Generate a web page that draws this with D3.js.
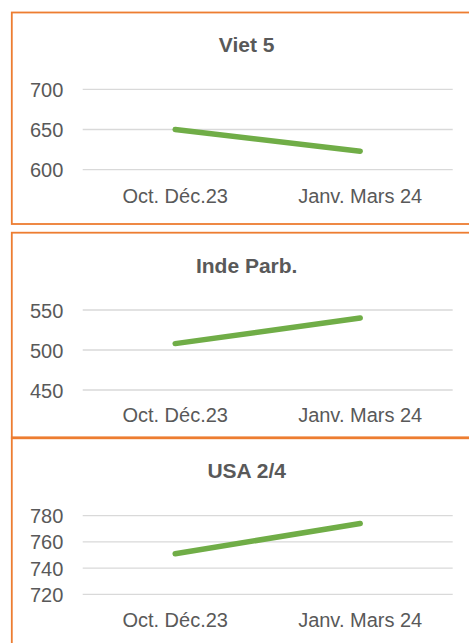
<!DOCTYPE html>
<html lang="fr">
<head>
    <meta charset="UTF-8">
    <title>Prix riz - trois paneles</title>
    <script type="text/javascript" src="https://d3js.org/d3.v7.min.js"></script>
    <style>
      body { margin: 0; background: #ffffff; }
    </style>
    <script type="text/javascript">
      // Datos de los graficos
      var categorias = ["Oct. Déc.23", "Janv. Mars 24"];
      var titulos = ["Viet 5", "Inde Parb.", "USA 2/4"];
      var viet5 = [650, 623];
      var indeParb = [508, 540];
      var usa24 = [751, 774];
      var ticksViet = [600, 650, 700];
      var ticksInde = [450, 500, 550];
      var ticksUsa = [720, 740, 760, 780];

      function diagrama(){

      // Tamaño del contenedor SVG
      	ancho = 469;
      	alto = 643;

      // Posicion de cada panel (marco, titulo, rejilla, etiquetas)
      	var paneles = [
      		{ titulo: titulos[0], valores: viet5, ticks: ticksViet,
      		  arriba: 12.5, abajo: 224, yTitulo: 52.3, yTop: 89.3, yBot: 169.7, yEtiq: 202.5 },
      		{ titulo: titulos[1], valores: indeParb, ticks: ticksInde,
      		  arriba: 232.7, abajo: 438.3, yTitulo: 272.7, yTop: 310, yBot: 390, yEtiq: 422.3 },
      		{ titulo: titulos[2], valores: usa24, ticks: ticksUsa,
      		  arriba: 437.3, abajo: 660, yTitulo: 478.3, yTop: 515.7, yBot: 594.3, yEtiq: 626.7 }
      	];

      	var izq = 82.7;   // inicio de la rejilla
      	var der = 452.7;  // fin de la rejilla

      	var svg = d3.select("body")
      				.append("svg")
      				.attr("width", ancho)
      				.attr("height", alto)
      				.style("font-family", "'Liberation Sans', Arial, sans-serif");

      // Escala X comun: dos categorias centradas en su banda
      	var escalaX = d3.scalePoint()
      					.domain(categorias)
      					.range([izq, der])
      					.padding(0.5);

      	paneles.forEach(function(p) {
      		var g = svg.append("g");

      	// Marco naranja
      		g.append("rect")
      		 .attr("x", 11.8)
      		 .attr("y", p.arriba)
      		 .attr("width", 500)
      		 .attr("height", p.abajo - p.arriba)
      		 .attr("fill", "none")
      		 .attr("stroke", "#ED7D31")
      		 .attr("stroke-width", 1.8);

      	// Escala Y del panel
      		var escalaY = d3.scaleLinear()
      						.domain([d3.min(p.ticks), d3.max(p.ticks)])
      						.range([p.yBot, p.yTop]);

      	// Rejilla horizontal
      		g.selectAll("line.rejilla")
      		 .data(p.ticks)
      		 .enter()
      		 .append("line")
      		 .attr("class", "rejilla")
      		 .attr("x1", izq)
      		 .attr("x2", der)
      		 .attr("y1", function(d) { return escalaY(d); })
      		 .attr("y2", function(d) { return escalaY(d); })
      		 .attr("stroke", "#D9D9D9")
      		 .attr("stroke-width", 1.3);

      	// Etiquetas del eje Y
      		g.selectAll("text.ytick")
      		 .data(p.ticks)
      		 .enter()
      		 .append("text")
      		 .attr("class", "ytick")
      		 .text(function(d) { return d; })
      		 .attr("text-anchor", "end")
      		 .attr("x", 63.3)
      		 .attr("y", function(d) { return escalaY(d) + 7.5; })
      		 .attr("font-size", "20px")
      		 .attr("fill", "#595959");

      	// Etiquetas del eje X
      		g.selectAll("text.xtick")
      		 .data(categorias)
      		 .enter()
      		 .append("text")
      		 .attr("class", "xtick")
      		 .text(function(d) { return d; })
      		 .attr("text-anchor", "middle")
      		 .attr("x", function(d) { return escalaX(d); })
      		 .attr("y", p.yEtiq)
      		 .attr("font-size", "20px")
      		 .attr("fill", "#595959");

      	// Titulo
      		g.append("text")
      		 .text(p.titulo)
      		 .attr("text-anchor", "middle")
      		 .attr("x", 246.7)
      		 .attr("y", p.yTitulo)
      		 .attr("font-size", "21px")
      		 .attr("font-weight", "bold")
      		 .attr("fill", "#595959");

      	// Linea verde
      		var linea = d3.line()
      					.x(function(d, i) { return escalaX(categorias[i]); })
      					.y(function(d) { return escalaY(d); });

      		g.append("path")
      		 .datum(p.valores)
      		 .attr("d", linea)
      		 .attr("fill", "none")
      		 .attr("stroke", "#70AD47")
      		 .attr("stroke-width", 5.5)
      		 .attr("stroke-linecap", "round");
      	});
      }
    </script>
</head>
<body onload="diagrama()">

</body>
</html>
